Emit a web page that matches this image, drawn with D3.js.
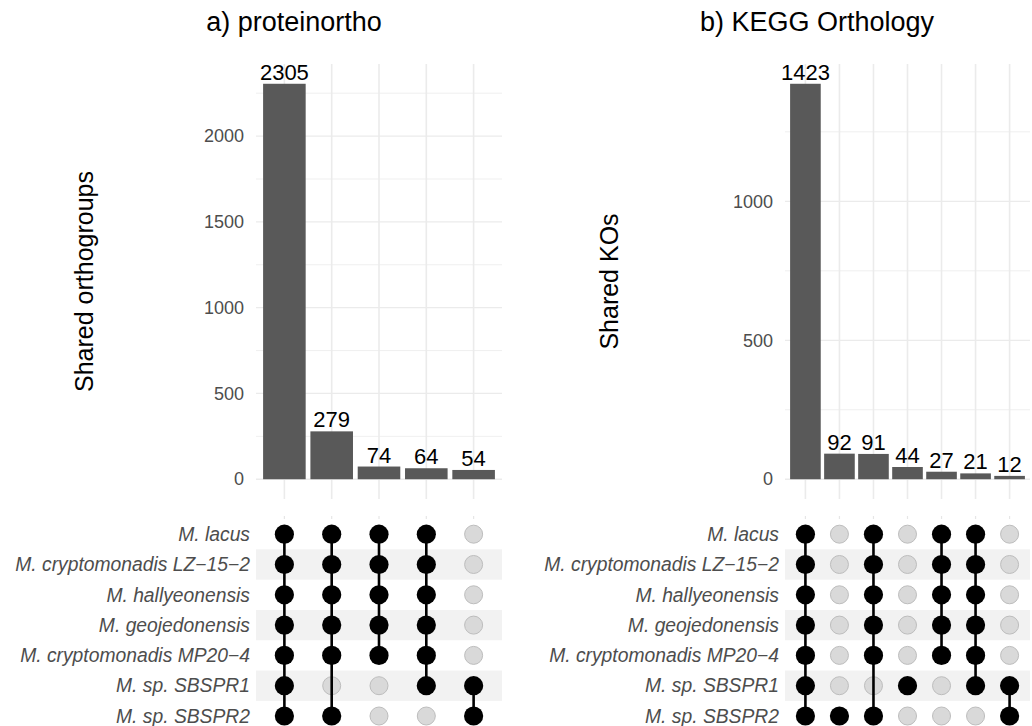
<!DOCTYPE html>
<html>
<head>
<meta charset="utf-8">
<script src="https://cdn.jsdelivr.net/npm/d3@7"></script>
<style>
  html, body { margin: 0; padding: 0; background: #fff; }
  svg { display: block; font-family: "Liberation Sans", Arial, Helvetica, sans-serif; }
</style>
</head>
<body>
<svg id="chart" width="1032" height="726"></svg>
<script>
// Species (matrix rows, top to bottom)
const species = [
  "M. lacus",
  "M. cryptomonadis LZ\u221215\u22122",
  "M. hallyeonensis",
  "M. geojedonensis",
  "M. cryptomonadis MP20\u22124",
  "M. sp. SBSPR1",
  "M. sp. SBSPR2"
];

// Panel a) proteinortho: shared orthogroups per intersection
const orthoCounts = [2305, 279, 74, 64, 54];
const orthoSets = [
  ["M. lacus", "M. cryptomonadis LZ\u221215\u22122", "M. hallyeonensis", "M. geojedonensis", "M. cryptomonadis MP20\u22124", "M. sp. SBSPR1", "M. sp. SBSPR2"],
  ["M. lacus", "M. cryptomonadis LZ\u221215\u22122", "M. hallyeonensis", "M. geojedonensis", "M. cryptomonadis MP20\u22124", "M. sp. SBSPR2"],
  ["M. lacus", "M. cryptomonadis LZ\u221215\u22122", "M. hallyeonensis", "M. geojedonensis", "M. cryptomonadis MP20\u22124"],
  ["M. lacus", "M. cryptomonadis LZ\u221215\u22122", "M. hallyeonensis", "M. geojedonensis", "M. cryptomonadis MP20\u22124", "M. sp. SBSPR1"],
  ["M. sp. SBSPR1", "M. sp. SBSPR2"]
];
const orthoTicks = [0, 500, 1000, 1500, 2000];
const orthoMinor = [250, 750, 1250, 1750, 2250];

// Panel b) KEGG Orthology: shared KOs per intersection
const keggCounts = [1423, 92, 91, 44, 27, 21, 12];
const keggSets = [
  ["M. lacus", "M. cryptomonadis LZ\u221215\u22122", "M. hallyeonensis", "M. geojedonensis", "M. cryptomonadis MP20\u22124", "M. sp. SBSPR1", "M. sp. SBSPR2"],
  ["M. sp. SBSPR2"],
  ["M. lacus", "M. cryptomonadis LZ\u221215\u22122", "M. hallyeonensis", "M. geojedonensis", "M. cryptomonadis MP20\u22124", "M. sp. SBSPR2"],
  ["M. sp. SBSPR1"],
  ["M. lacus", "M. cryptomonadis LZ\u221215\u22122", "M. hallyeonensis", "M. geojedonensis", "M. cryptomonadis MP20\u22124"],
  ["M. lacus", "M. cryptomonadis LZ\u221215\u22122", "M. hallyeonensis", "M. geojedonensis", "M. cryptomonadis MP20\u22124", "M. sp. SBSPR1"],
  ["M. sp. SBSPR1", "M. sp. SBSPR2"]
];
const keggTicks = [0, 500, 1000];
const keggMinor = [250, 750, 1250];

const svg = d3.select("#chart");
const GRID = "#ebebeb";

function drawUpset(opt) {
  const g = svg.append("g");
  const n = opt.counts.length;
  const idx = d3.range(n);
  const maxV = d3.max(opt.counts);

  // bar panel scales (5% expansion on the value axis)
  const x = d3.scaleBand().domain(idx).range([opt.left, opt.right])
    .paddingInner(0.1).paddingOuter(0.15);
  const cx = i => x(i) + x.bandwidth() / 2;
  const y = d3.scaleLinear().domain([-maxV * 0.05, maxV * 1.05]).range([499, 64]);

  // matrix row scale
  const row = d3.scalePoint().domain(species).range([516, 734.2]).padding(0.6);
  const rowStep = row.step();

  // title
  g.append("text").attr("x", opt.titleX).attr("y", 31)
    .attr("text-anchor", "middle").attr("font-size", 27).attr("fill", "#000")
    .text(opt.title);

  // gridlines
  g.append("g").selectAll("line.minor").data(opt.minor).join("line")
    .attr("x1", opt.left).attr("x2", opt.right)
    .attr("y1", d => y(d)).attr("y2", d => y(d))
    .attr("stroke", GRID).attr("stroke-width", 0.8);
  g.append("g").selectAll("line.major").data(opt.ticks).join("line")
    .attr("x1", opt.left).attr("x2", opt.right)
    .attr("y1", d => y(d)).attr("y2", d => y(d))
    .attr("stroke", GRID).attr("stroke-width", 1.3);
  g.append("g").selectAll("line.vg").data(idx).join("line")
    .attr("x1", cx).attr("x2", cx)
    .attr("y1", 64).attr("y2", 499)
    .attr("stroke", GRID).attr("stroke-width", 1.6);

  // y axis
  const axis = g.append("g").attr("transform", `translate(${opt.left},0)`)
    .call(d3.axisLeft(y).tickValues(opt.ticks).tickFormat(d3.format("d"))
      .tickSize(0).tickPadding(12));
  axis.select(".domain").remove();
  axis.selectAll("text").attr("font-size", 18).attr("fill", "#4d4d4d")
    .attr("font-family", "Liberation Sans, Arial, sans-serif");

  // y axis title
  g.append("text")
    .attr("transform", `translate(${opt.yTitleX},${(y.range()[0] + y.range()[1]) / 2}) rotate(-90)`)
    .attr("text-anchor", "middle").attr("dy", "0.35em")
    .attr("font-size", 25).attr("fill", "#000").text(opt.yTitle);

  // bars
  g.append("g").selectAll("rect").data(opt.counts).join("rect")
    .attr("x", (d, i) => x(i)).attr("width", x.bandwidth())
    .attr("y", d => y(d)).attr("height", d => y(0) - y(d))
    .attr("fill", "#595959");

  // count labels
  g.append("g").selectAll("text").data(opt.counts).join("text")
    .attr("x", (d, i) => cx(i)).attr("y", d => y(d) - 4)
    .attr("text-anchor", "middle").attr("font-size", 22).attr("fill", "#000")
    .text(d => d);

  // matrix stripes
  g.append("g").selectAll("rect").data(species.filter((s, i) => i % 2 === 1)).join("rect")
    .attr("x", opt.left).attr("width", opt.right - opt.left)
    .attr("y", d => row(d) - rowStep / 2).attr("height", rowStep)
    .attr("fill", "#f2f2f2");

  // short grid stubs at matrix top
  g.append("g").selectAll("line").data(idx).join("line")
    .attr("x1", cx).attr("x2", cx).attr("y1", 516).attr("y2", 519)
    .attr("stroke", "#e6e6e6").attr("stroke-width", 1.2);

  // species labels
  g.append("g").selectAll("text").data(species).join("text")
    .attr("x", opt.left - 6).attr("y", d => row(d)).attr("dy", "0.35em")
    .attr("text-anchor", "end").attr("font-size", 19.3).attr("font-style", "italic")
    .attr("fill", "#4d4d4d").text(d => d);

  // unselected dots
  const cells = [];
  idx.forEach(i => species.forEach(s => cells.push({ i, s, on: opt.sets[i].includes(s) })));
  g.append("g").selectAll("circle").data(cells.filter(c => !c.on)).join("circle")
    .attr("cx", c => cx(c.i)).attr("cy", c => row(c.s)).attr("r", 9)
    .attr("fill", "#d9d9d9").attr("stroke", "#bdbdbd").attr("stroke-width", 1);

  // connecting lines
  g.append("g").selectAll("line").data(idx.filter(i => opt.sets[i].length > 1)).join("line")
    .attr("x1", cx).attr("x2", cx)
    .attr("y1", i => d3.min(opt.sets[i], s => row(s)))
    .attr("y2", i => d3.max(opt.sets[i], s => row(s)))
    .attr("stroke", "#000").attr("stroke-width", 2.6);

  // selected dots
  g.append("g").selectAll("circle").data(cells.filter(c => c.on)).join("circle")
    .attr("cx", c => cx(c.i)).attr("cy", c => row(c.s)).attr("r", 9.6)
    .attr("fill", "#000");
}

drawUpset({
  counts: orthoCounts, sets: orthoSets, ticks: orthoTicks, minor: orthoMinor,
  left: 256, right: 502, title: "a) proteinortho", titleX: 294,
  yTitle: "Shared orthogroups", yTitleX: 84
});

drawUpset({
  counts: keggCounts, sets: keggSets, ticks: keggTicks, minor: keggMinor,
  left: 785, right: 1030, title: "b) KEGG Orthology", titleX: 817,
  yTitle: "Shared KOs", yTitleX: 609
});
</script>
</body>
</html>
